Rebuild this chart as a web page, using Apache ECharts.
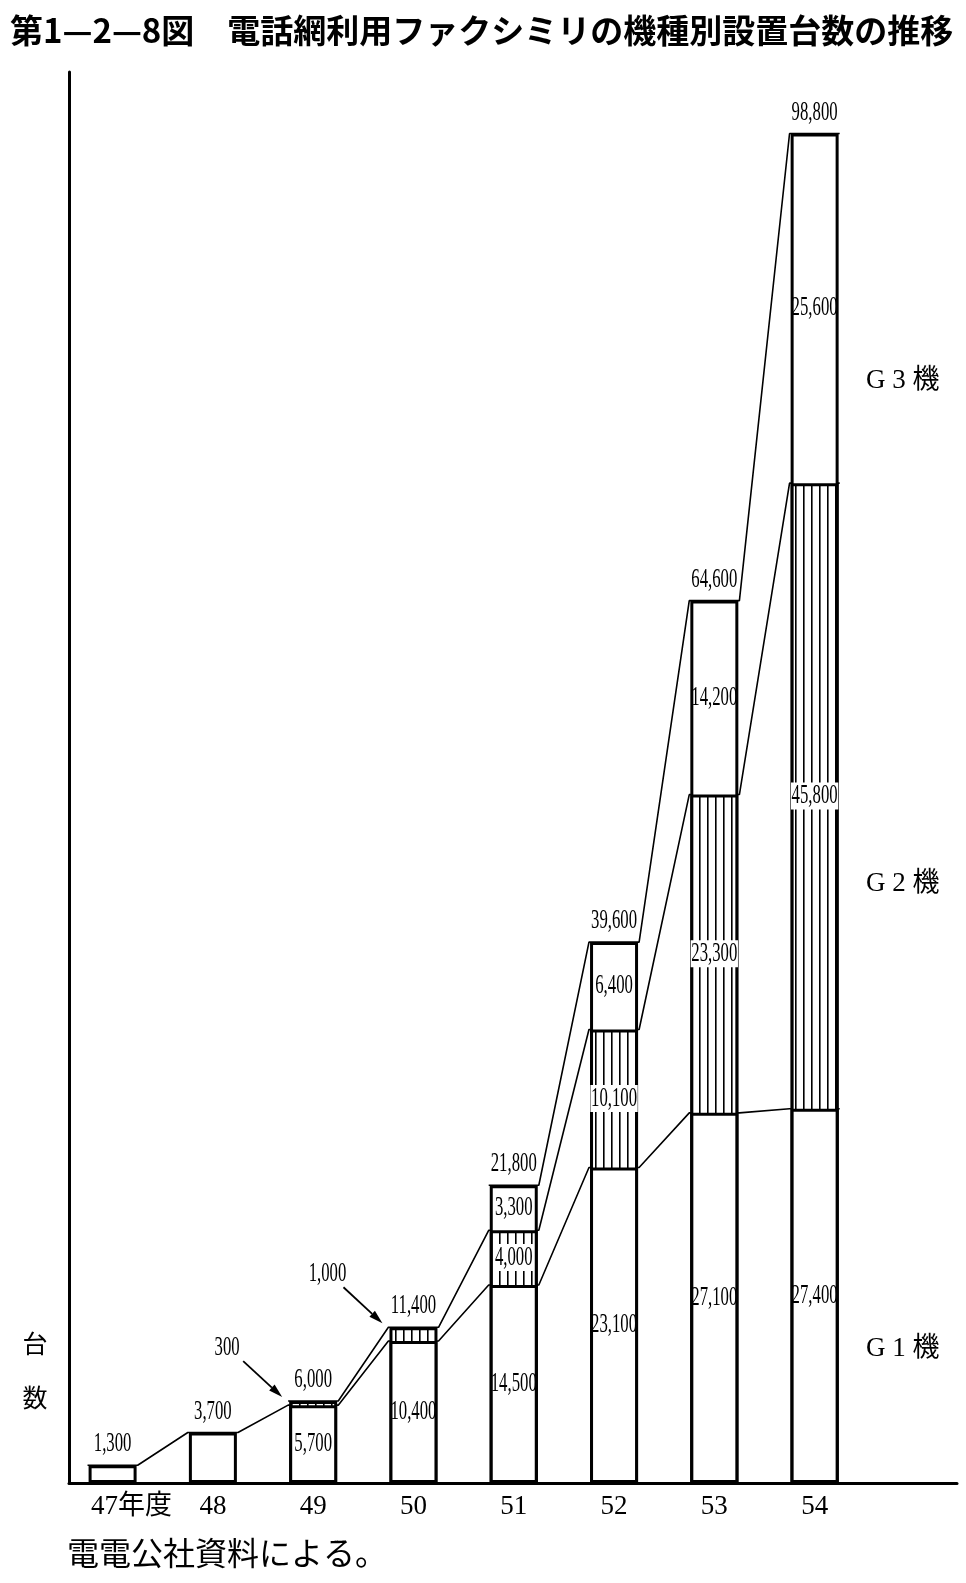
<!DOCTYPE html>
<html><head><meta charset="utf-8">
<script src="https://cdn.jsdelivr.net/npm/echarts@6/dist/echarts.min.js"></script>
<style>html,body{margin:0;padding:0;background:#fff}#c{width:966px;height:1583px}</style>
</head><body><div id="c"></div>
<script>
// ---- data ----
const categories = ['47', '48', '49', '50', '51', '52', '53', '54'];
const firstSuffix = '年度';
const g1Values = [1300, 3700, 5700, 10400, 14500, 23100, 27100, 27400];
const g2Values = [null, null, 300, 1000, 4000, 10100, 23300, 45800];
const g3Values = [null, null, null, null, 3300, 6400, 14200, 25600];
const seriesNames = ['G 1 機', 'G 2 機', 'G 3 機'];
const titleText = '第1—2—8図　電話網利用ファクシミリの機種別設置台数の推移';
const yAxisName = ['台', '数'];
const sourceText = '電電公社資料による。';

// ---- style constants ----
const NUM_FONT = "'Liberation Serif', 'Noto Sans CJK JP', serif";
const JP_FONT = "'Noto Sans CJK JP', sans-serif";
const BAR_W = 48;
const HALF = 0.25;          // half bar width in x units for connector lines
const CALLOUT_MAX = 2000;   // segments smaller than this get an arrow callout

const fmt = v => Math.round(v).toLocaleString('en-US');

// cumulative tops (stack computed here; bars drawn largest-first so they overlap like a stack)
const cum1 = g1Values.slice();
const cum2 = g2Values.map((v, i) => v == null ? null : cum1[i] + v);
const cum3 = g3Values.map((v, i) => v == null ? null : cum2[i] + v);
const totals = g1Values.map((v, i) => cum3[i] != null ? cum3[i] : (cum2[i] != null ? cum2[i] : cum1[i]));

function connector(cum) {
  const pts = [];
  cum.forEach((c, i) => { if (c != null) { pts.push([i - HALF, c], [i + HALF, c]); } });
  return pts;
}

// label items: [i, lo, hi, kind]  kind 0 = inside, 1 = total on top, 2 = callout, 3 = inside hatched
const labelItems = [];
categories.forEach((_, i) => {
  const multi = g2Values[i] != null;
  if (multi) labelItems.push([i, 0, cum1[i], 0]);
  if (g2Values[i] != null) labelItems.push([i, cum1[i], cum2[i], g2Values[i] < CALLOUT_MAX ? 2 : 3]);
  if (g3Values[i] != null) labelItems.push([i, cum2[i], cum3[i], 0]);
  labelItems.push([i, 0, totals[i], 1]);
});

// hatch pattern for G2
const hatch = document.createElement('canvas');
hatch.width = 8; hatch.height = 8;
const hc = hatch.getContext('2d');
hc.fillStyle = '#fff'; hc.fillRect(0, 0, 8, 8);
hc.fillStyle = '#000'; hc.fillRect(3, 0, 1.6, 8);

const chart = echarts.init(document.getElementById('c'), null, {renderer: 'canvas'});

function numText(s, x, y, bg) {
  const style = {text: s, x: 0, y: 0, fill: '#000', fontSize: 27, fontFamily: NUM_FONT,
    align: 'center', verticalAlign: 'middle'};
  if (bg) { style.backgroundColor = '#fff'; style.padding = [0, 1]; }
  return {type: 'text', x: x, y: y, scaleX: 0.62, scaleY: 1, style: style};
}

const barStyle = {color: '#fff', borderColor: '#000', borderWidth: 3};
const lineStyle = {color: '#000', width: 1.6};
const toPts = arr => arr.map((v, i) => [i, v == null ? '-' : v]);

const option = {
  animation: false,
  backgroundColor: '#fff',
  grid: {left: 69, right: 9, top: 72, bottom: 100, containLabel: false},
  xAxis: {
    type: 'value', min: -0.4347, max: 8.4196,
    splitLine: {show: false},
    axisTick: {show: false},
    axisLine: {show: true, onZero: false, lineStyle: {color: '#000', width: 3}},
    axisLabel: {
      customValues: categories.map((_, i) => i),
      margin: 10, color: '#000', fontSize: 27, fontFamily: NUM_FONT,
      formatter: v => {
        const k = Math.round(v);
        return k === 0 ? '{pad|}' + categories[k] + firstSuffix : categories[k];
      },
      rich: {pad: {width: 38}}
    }
  },
  yAxis: {
    type: 'value', min: 0, max: 103300,
    splitLine: {show: false}, axisTick: {show: false}, axisLabel: {show: false},
    axisLine: {show: true, onZero: false, lineStyle: {color: '#000', width: 3}}
  },
  series: [
    {type: 'line', data: connector(cum1), symbol: 'none', lineStyle: lineStyle, z: 1, silent: true},
    {type: 'line', data: connector(cum2), symbol: 'none', lineStyle: lineStyle, z: 1, silent: true},
    {type: 'line', data: connector(cum3), symbol: 'none', lineStyle: lineStyle, z: 1, silent: true},
    {type: 'bar', name: seriesNames[2], barWidth: BAR_W, barGap: '-100%', z: 3,
      data: toPts(cum3), itemStyle: barStyle},
    {type: 'bar', name: seriesNames[1], barWidth: BAR_W, barGap: '-100%', z: 3,
      data: toPts(cum2),
      itemStyle: {color: {image: hatch, repeat: 'repeat'}, borderColor: '#000', borderWidth: 3}},
    {type: 'bar', name: seriesNames[0], barWidth: BAR_W, barGap: '-100%', z: 3,
      data: toPts(cum1), itemStyle: barStyle},
    {type: 'custom', z: 5, silent: true, data: labelItems,
      encode: {x: 0, y: 2},
      renderItem: function (params, api) {
        const i = api.value(0), lo = api.value(1), hi = api.value(2), kind = api.value(3);
        const pLo = api.coord([i, lo]), pHi = api.coord([i, hi]);
        if (kind === 0 || kind === 3) {
          return numText(fmt(hi - lo), pHi[0], (pLo[1] + pHi[1]) / 2, kind === 3);
        }
        if (kind === 1) {
          return numText(fmt(hi), pHi[0], pHi[1] - 21, false);
        }
        const tip = [pHi[0] - BAR_W / 2 - 7, pHi[1] - 4];
        const tail = [tip[0] - 39, tip[1] - 36];
        const dx = tip[0] - tail[0], dy = tip[1] - tail[1];
        const L = Math.sqrt(dx * dx + dy * dy);
        const ux = dx / L, uy = dy / L, nx = -uy, ny = ux;
        const hb = [tip[0] - ux * 14, tip[1] - uy * 14];
        return {type: 'group', children: [
          {type: 'line', shape: {x1: tail[0], y1: tail[1], x2: hb[0], y2: hb[1]},
            style: {stroke: '#000', lineWidth: 1.8}},
          {type: 'polygon', shape: {points: [tip, [hb[0] + nx * 4, hb[1] + ny * 4], [hb[0] - nx * 4, hb[1] - ny * 4]]},
            style: {fill: '#000'}},
          numText(fmt(hi - lo), tip[0] - 55, tip[1] - 49, false)
        ]};
      }
    }
  ],
  graphic: [
    {type: 'text', x: 10, y: 30, style: {text: titleText, fill: '#000', fontSize: 33, fontWeight: 'bold',
      fontFamily: JP_FONT, verticalAlign: 'middle'}},
    {type: 'text', x: 35, y: 1343, style: {text: yAxisName[0], fill: '#000', fontSize: 25, fontFamily: JP_FONT, align: 'center', verticalAlign: 'middle'}},
    {type: 'text', x: 35, y: 1397, style: {text: yAxisName[1], fill: '#000', fontSize: 25, fontFamily: JP_FONT, align: 'center', verticalAlign: 'middle'}},
    {type: 'text', x: 866, y: 381, style: {text: seriesNames[2], fill: '#000', fontSize: 27, fontFamily: NUM_FONT, verticalAlign: 'middle'}},
    {type: 'text', x: 866, y: 884, style: {text: seriesNames[1], fill: '#000', fontSize: 27, fontFamily: NUM_FONT, verticalAlign: 'middle'}},
    {type: 'text', x: 866, y: 1349, style: {text: seriesNames[0], fill: '#000', fontSize: 27, fontFamily: NUM_FONT, verticalAlign: 'middle'}},
    {type: 'text', x: 67, y: 1553, style: {text: sourceText, fill: '#000', fontSize: 32, fontFamily: JP_FONT, verticalAlign: 'middle'}}
  ]
};
chart.setOption(option);
</script>
</body></html>
